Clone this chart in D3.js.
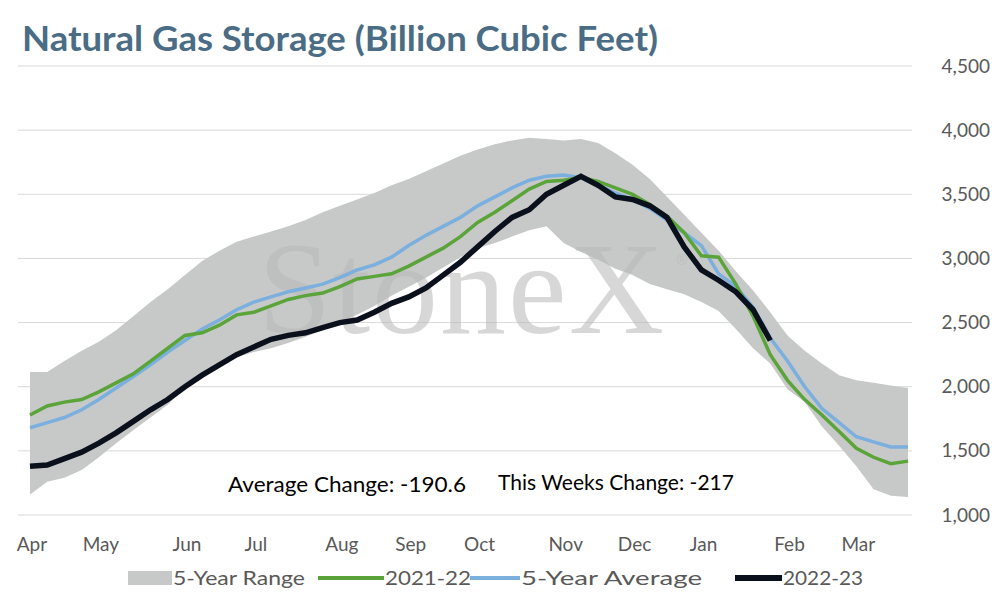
<!DOCTYPE html><html><head><meta charset="utf-8"><script src="https://cdn.jsdelivr.net/npm/d3@7"></script>
<style>body{margin:0;background:#fff}svg{font-family:"Open Sans",sans-serif}</style></head><body><svg id="c" width="994" height="600"></svg>
<script>
const months=["Apr","May","Jun","Jul","Aug","Sep","Oct","Nov","Dec","Jan","Feb","Mar"];
const monthWeek=[0,4,9,13,18,22,26,31,35,39,44,48];
const yTicks=[1000,1500,2000,2500,3000,3500,4000,4500];
const rangeHigh=[2115,2115,2200,2280,2350,2440,2550,2660,2760,2870,2980,3060,3130,3170,3210,3250,3300,3360,3410,3460,3510,3570,3620,3680,3740,3800,3850,3890,3920,3940,3930,3920,3930,3900,3820,3730,3620,3480,3340,3200,3060,2900,2750,2580,2400,2280,2180,2090,2050,2030,2010,1990];
const rangeLow=[1160,1260,1290,1350,1450,1560,1660,1760,1860,1990,2080,2160,2230,2270,2300,2340,2390,2440,2500,2560,2630,2710,2780,2850,2930,3010,3080,3120,3170,3220,3250,3120,3050,2990,2920,2870,2800,2760,2720,2660,2590,2450,2300,2180,1980,1880,1690,1540,1380,1200,1150,1140];
const s2122=[1780,1850,1880,1900,1960,2030,2100,2200,2300,2400,2420,2480,2560,2580,2630,2680,2710,2730,2780,2840,2860,2880,2940,3010,3080,3170,3280,3360,3450,3540,3600,3610,3630,3600,3550,3500,3420,3330,3200,3020,3010,2800,2550,2250,2050,1900,1780,1650,1520,1450,1400,1420];
const avg5=[1680,1720,1760,1820,1900,1990,2080,2170,2270,2360,2450,2520,2600,2660,2700,2740,2770,2800,2850,2910,2950,3010,3100,3180,3250,3320,3410,3480,3550,3610,3640,3650,3630,3570,3510,3460,3390,3300,3200,3100,2880,2780,2620,2380,2200,2000,1830,1720,1610,1570,1530,1530];
const s2223=[1380,1390,1440,1490,1560,1640,1730,1820,1900,2000,2090,2170,2250,2310,2370,2400,2420,2460,2500,2520,2580,2650,2700,2770,2870,2970,3090,3210,3320,3380,3500,3570,3640,3570,3480,3460,3410,3320,3090,2910,2830,2740,2600,2360];
const svg=d3.select("#c");
const x=d3.scaleLinear().domain([0,51]).range([30,908]);
const y=d3.scaleLinear().domain([1000,4500]).range([515,66]);
svg.append("g").selectAll("line").data(yTicks).join("line").attr("x1",18).attr("x2",912).attr("y1",d=>y(d)).attr("y2",d=>y(d)).attr("stroke","#d9d9d9");
const ax=svg.append("g").attr("transform","translate(990,0)").call(d3.axisRight(y).tickValues(yTicks).tickFormat(d3.format(",")).tickSize(0));
ax.select(".domain").remove();ax.selectAll("text").attr("text-anchor","end").attr("x",0).attr("fill","#595959").style("font-size","19px").style("font-family","Lato");
const idx=d3.range(52);
svg.append("path").datum(idx).attr("fill","#c7c9c9").attr("d",d3.area().x(i=>x(i)).y0(i=>y(rangeLow[i])).y1(i=>y(rangeHigh[i])));
svg.append("text").attr("x",462).attr("y",333).attr("text-anchor","middle").attr("fill","#b8b8b8").attr("opacity",0.55).style("font-family","Liberation Serif").style("font-size","132px").attr("letter-spacing","2px").text("StoneX");
svg.append("text").attr("x",676).attr("y",265).attr("fill","#b8b8b8").attr("opacity",0.55).style("font-size","14px").text("®");
const line=d3.line().x((d,i)=>x(i)).y(d=>y(d));
svg.append("path").datum(avg5).attr("fill","none").attr("stroke","#7aafde").attr("stroke-width",3.5).attr("d",line);
svg.append("path").datum(s2122).attr("fill","none").attr("stroke","#5aa43a").attr("stroke-width",3.5).attr("d",line);
svg.append("path").datum(s2223).attr("fill","none").attr("stroke","#0b111c").attr("stroke-width",5.5).attr("d",line);
svg.append("g").selectAll("text").data(months).join("text").attr("x",(d,i)=>x(monthWeek[i])+2).attr("y",551).attr("text-anchor","middle").attr("fill","#595959").style("font-size","19px").style("font-family","Lato").text(d=>d);
svg.append("text").attr("x",22).attr("y",51).attr("fill","#4a6c84").style("font-family","Lato").style("font-weight","bold").style("font-size","34px").attr("textLength",636).attr("lengthAdjust","spacingAndGlyphs").text("Natural Gas Storage (Billion Cubic Feet)");
svg.append("text").attr("x",228).attr("y",492).style("font-family","Lato").style("font-size","21px").attr("textLength",238).attr("lengthAdjust","spacingAndGlyphs").text("Average Change: -190.6");
svg.append("text").attr("x",498).attr("y",490).style("font-family","Lato").style("font-size","21px").attr("textLength",236).attr("lengthAdjust","spacingAndGlyphs").text("This Weeks Change: -217");
const leg=[{t:"5-Year Range",c:"#c7c9c9",w:14,x1:128,x2:172,tl:132},{t:"2021-22",c:"#5aa43a",w:4,x1:318,x2:384,tl:86},{t:"5-Year Average",c:"#7aafde",w:4,x1:470,x2:520,tl:181},{t:"2022-23",c:"#0b111c",w:6,x1:735,x2:782,tl:80}];
leg.forEach(l=>{svg.append("line").attr("x1",l.x1).attr("x2",l.x2).attr("y1",578).attr("y2",578).attr("stroke",l.c).attr("stroke-width",l.w);
svg.append("text").attr("x",l.x2+1).attr("y",585).attr("fill","#595959").style("font-size","20px").style("font-family","Lato").attr("textLength",l.tl).attr("lengthAdjust","spacingAndGlyphs").text(l.t);});
</script></body></html>
